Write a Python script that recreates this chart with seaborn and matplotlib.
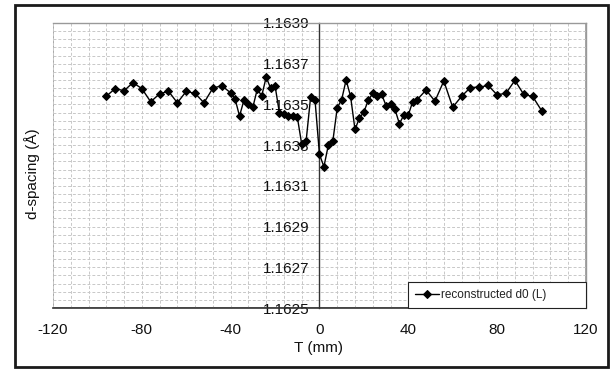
import numpy as np
import pandas as pd
import matplotlib
matplotlib.use("Agg")
import matplotlib.pyplot as plt
import matplotlib.ticker as mticker
from matplotlib.patches import Rectangle
import seaborn as sns

# position T (mm) and reconstructed d0 (Å)
t_mm = [-96, -92, -88, -84, -80, -76, -72, -68, -64, -60, -56, -52, -48, -44,
        -40, -38, -36, -34, -32, -30, -28, -26, -24, -22, -20, -18, -16, -14,
        -12, -10, -8, -6, -4, -2, 0, 2, 4, 6, 8, 10, 12, 14, 16, 18, 20, 22,
        24, 26, 28, 30, 32, 34, 36, 38, 40, 42, 44,
        48, 52, 56, 60, 64, 68, 72, 76, 80, 84, 88, 92, 96, 100]
d0 = [1.163540, 1.163578, 1.163567, 1.163607, 1.163578, 1.163513, 1.163552,
      1.163565, 1.163508, 1.163564, 1.163554, 1.163508, 1.163580, 1.163592,
      1.163557, 1.163527, 1.163443, 1.163521, 1.163501, 1.163486, 1.163575,
      1.163542, 1.163634, 1.163580, 1.163592, 1.163456, 1.163453, 1.163443,
      1.163441, 1.163440, 1.163305, 1.163321, 1.163535, 1.163521, 1.163255,
      1.163194, 1.163300, 1.163318, 1.163483, 1.163524, 1.163620, 1.163540,
      1.163377, 1.163433, 1.163463, 1.163521, 1.163554, 1.163542, 1.163549,
      1.163494, 1.163503, 1.163476, 1.163405, 1.163448, 1.163448, 1.163514,
      1.163523,
      1.163571, 1.163516, 1.163615, 1.163486, 1.163540, 1.163583, 1.163585,
      1.163593, 1.163547, 1.163555, 1.163618, 1.163549, 1.163539, 1.163470]
series_name = "reconstructed d0 (L)"

x_ticks = [-120, -80, -40, 0, 40, 80, 120]
y_ticks = [1.1625, 1.1627, 1.1629, 1.1631, 1.1633, 1.1635, 1.1637, 1.1639]

df = pd.DataFrame({"T": t_mm, "d0": d0})

sns.set_theme(style="white")
plt.rcParams["font.family"] = ["Liberation Sans", "DejaVu Sans"]
plt.rcParams["axes.unicode_minus"] = False

fig = plt.figure(figsize=(6.11, 3.69), dpi=100)
ax = fig.add_axes([0.0867, 0.1653, 0.8723, 0.7724])

sns.lineplot(data=df, x="T", y="d0", ax=ax, color="black", linewidth=1.0,
             marker="D", markersize=4.5, markeredgecolor="black",
             label=series_name, zorder=5)

ax.set_xlim(x_ticks[0], x_ticks[-1])
ax.set_ylim(y_ticks[0], y_ticks[-1])
ax.xaxis.set_major_locator(mticker.FixedLocator(x_ticks))
ax.xaxis.set_minor_locator(mticker.MultipleLocator(8))
ax.yaxis.set_major_locator(mticker.FixedLocator(y_ticks))
ax.yaxis.set_minor_locator(mticker.FixedLocator(
    [y_ticks[0] + i * 0.00004 for i in range(36)]))
ax.yaxis.set_major_formatter(mticker.FormatStrFormatter("%.4f"))

ax.grid(True, which="both", color="#c8c8c8", linestyle=(0, (3, 2)), linewidth=0.7)
ax.set_axisbelow(True)

# y axis crosses at T = 0, Excel style
ax.spines["left"].set_position(("data", 0))
ax.spines["left"].set_color("#333333")
ax.spines["left"].set_linewidth(1.0)
ax.spines["bottom"].set_color("#333333")
ax.spines["bottom"].set_linewidth(1.2)
for s in ["top", "right"]:
    ax.spines[s].set_color("#999999")
    ax.spines[s].set_linewidth(1.0)
ax.add_patch(Rectangle((0, 0), 1, 1, transform=ax.transAxes, fill=False,
                       edgecolor="#999999", linewidth=1.2, zorder=0.5))

ax.tick_params(axis="both", which="major", direction="out", length=5,
               width=0.8, color="#333333", labelsize=11, labelcolor="#111111")
ax.tick_params(axis="both", which="minor", length=0)
ax.tick_params(axis="y", pad=2)
ax.tick_params(axis="x", pad=6)
ax.set_xlabel("")
ax.set_ylabel("")

leg = ax.legend(loc="lower left", bbox_to_anchor=(0.666, 0.0, 0.334, 0.119),
                mode="expand", borderaxespad=0, fancybox=False, framealpha=1,
                edgecolor="#222222", fontsize=8.5, handlelength=2.0,
                handletextpad=0.2, borderpad=0.6)
leg.get_frame().set_linewidth(0.8)
for t in leg.get_texts():
    t.set_color("#222222")
leg.set_zorder(10)

fig.text(0.052, 0.53, "d-spacing (Å)", rotation=90, ha="center", va="center",
         fontsize=11, color="#111111")
fig.text(0.522, 0.058, "T (mm)", ha="center", va="center", fontsize=11,
         color="#111111")

fig.patches.append(Rectangle((0.0245, 0.006), 0.9705, 0.981,
                             transform=fig.transFigure, fill=False,
                             edgecolor="#1a1a1a", linewidth=2.0))

fig.savefig("out.png", dpi=100)
